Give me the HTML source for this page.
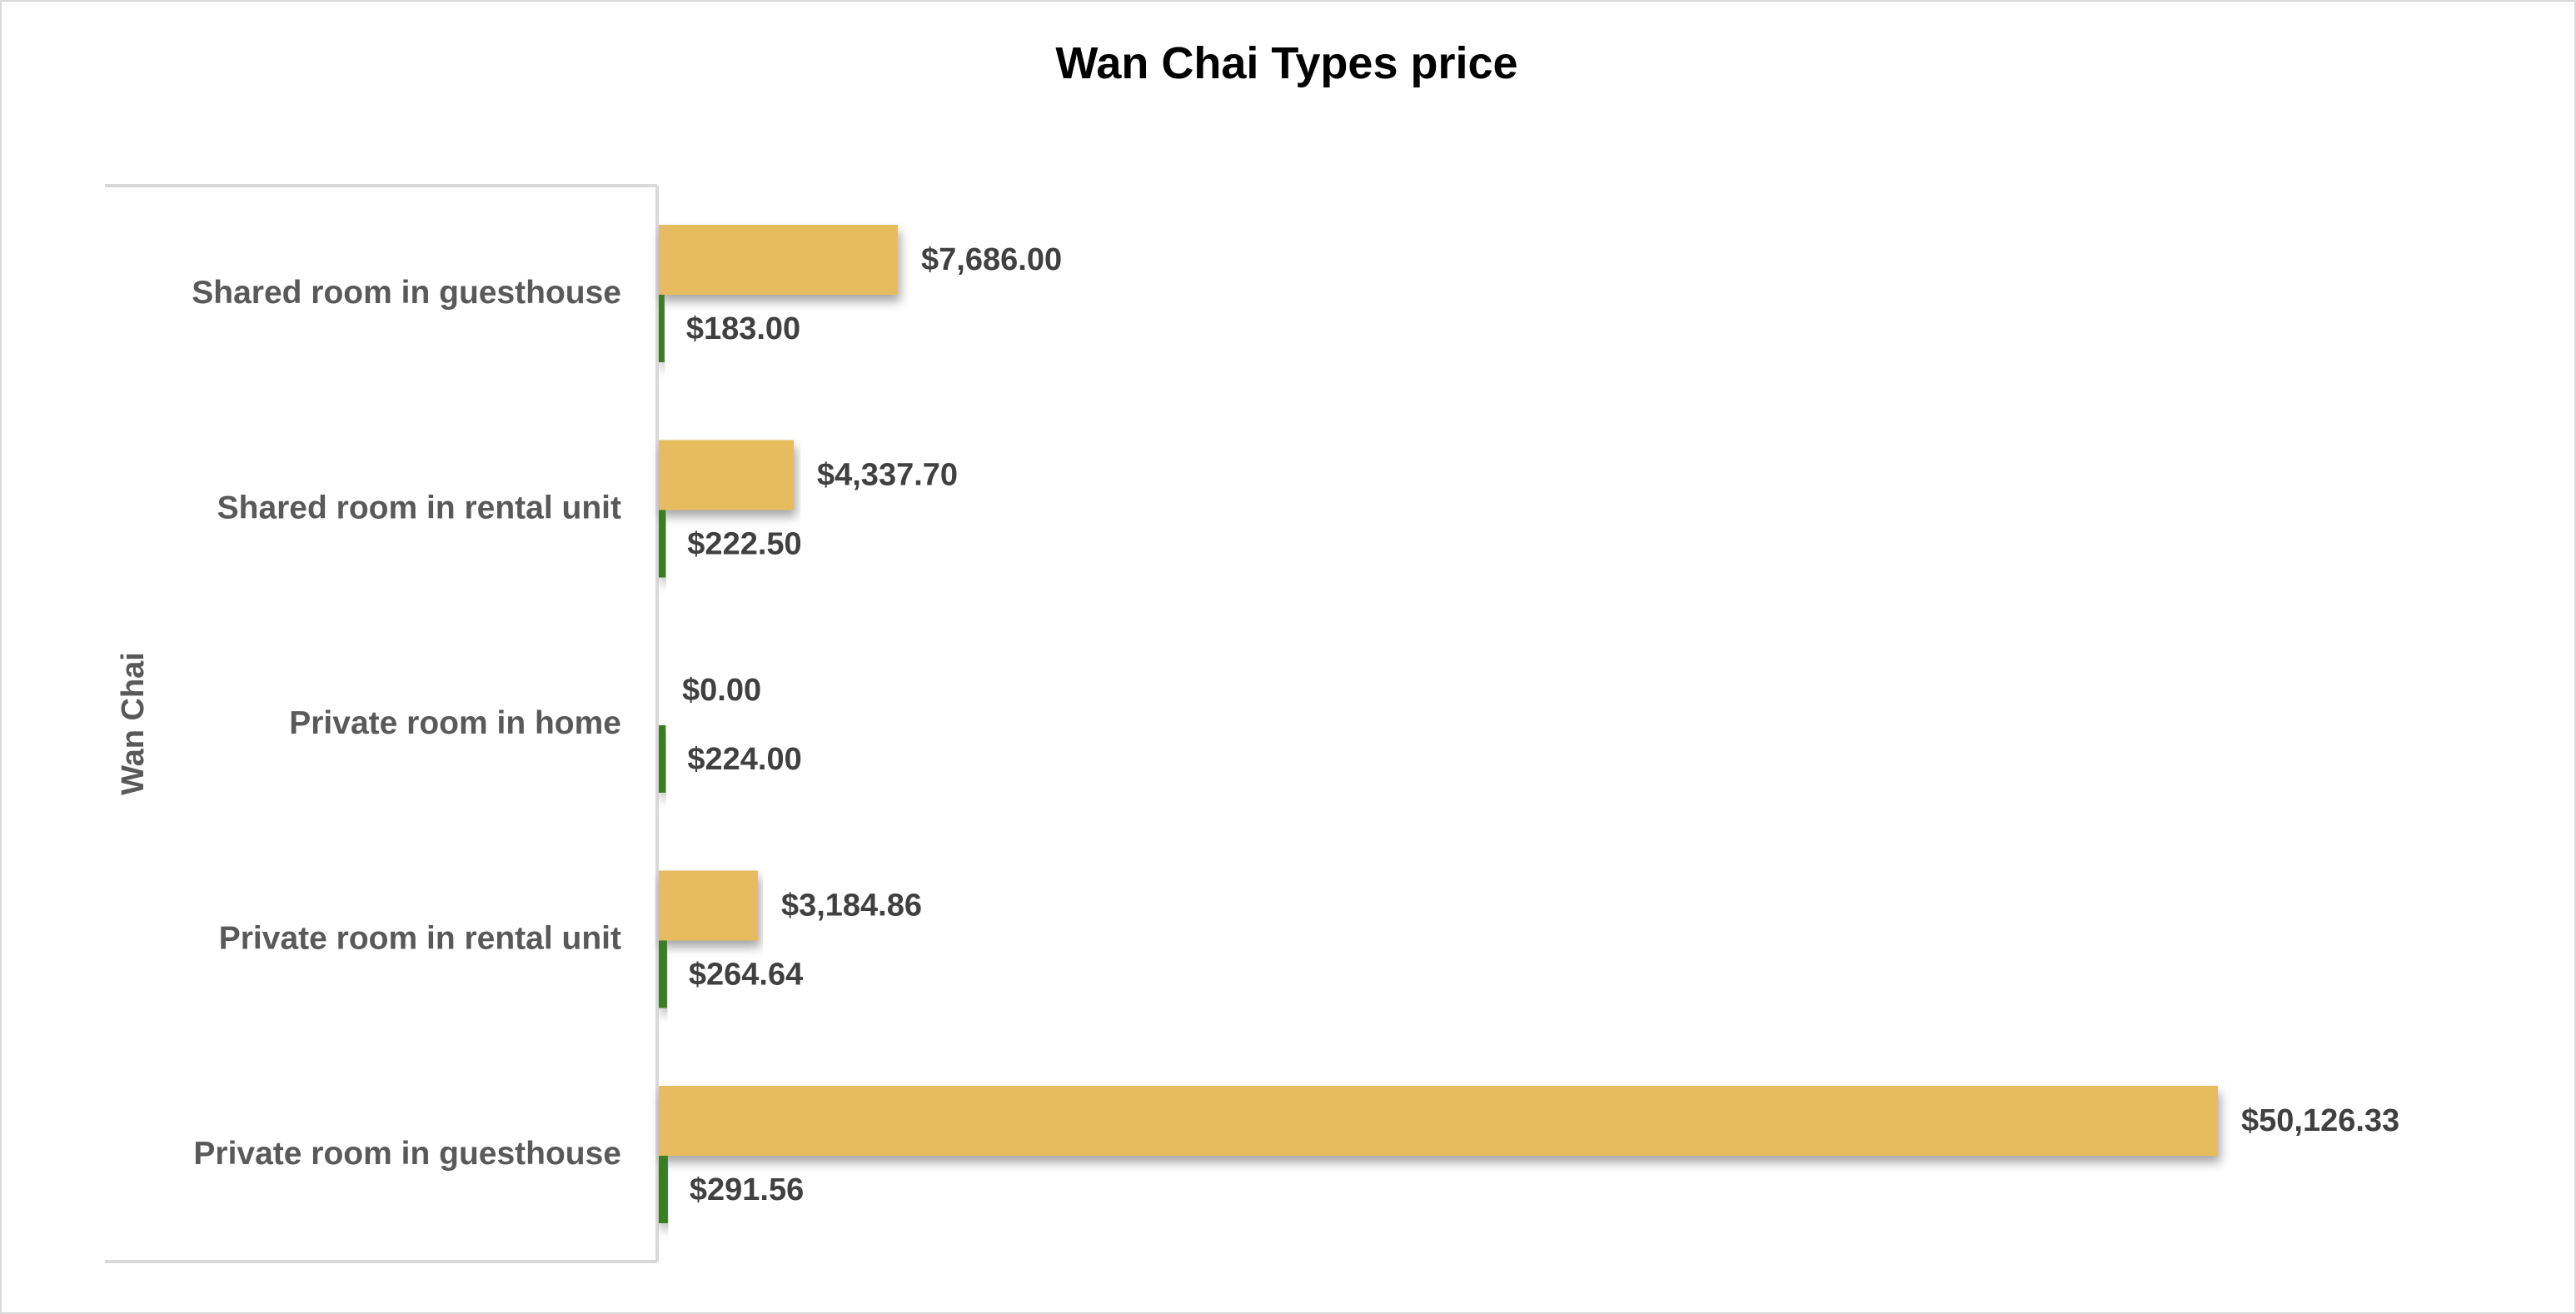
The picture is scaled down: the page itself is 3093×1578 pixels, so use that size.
<!DOCTYPE html>
<html><head><meta charset="utf-8"><style>
html,body{margin:0;padding:0;background:#fff;}
svg{display:block;}
text{font-family:"Liberation Sans",sans-serif;font-weight:bold;}
</style></head><body>
<svg id="chart" width="3093" height="1578" viewBox="0 0 3093 1578">
<defs>
<filter id="sh" x="-5%" y="-30%" width="110%" height="180%">
<feDropShadow dx="3" dy="8" stdDeviation="6" flood-color="#000" flood-opacity="0.35"/>
</filter>
</defs>
<rect x="1" y="1" width="3091" height="1576" fill="#fff" stroke="#d9d9d9" stroke-width="2"/>
<text x="1545" y="94" text-anchor="middle" font-size="54" fill="#000">Wan Chai Types price</text>
<line x1="126" y1="223" x2="789" y2="223" stroke="#d9d9d9" stroke-width="4"/>
<line x1="126" y1="1515" x2="789" y2="1515" stroke="#d9d9d9" stroke-width="4"/>
<line x1="789" y1="223" x2="789" y2="1515" stroke="#d9d9d9" stroke-width="4"/>
<text transform="translate(172,869) rotate(-90)" text-anchor="middle" font-size="38" fill="#595959">Wan Chai</text>
<g id="marks"></g>
</svg>
<script>
const categories = ["Shared room in guesthouse","Shared room in rental unit","Private room in home","Private room in rental unit","Private room in guesthouse"];
const series1 = [7686.00, 4337.70, 0.00, 3184.86, 50126.33];
const series2 = [183.00, 222.50, 224.00, 264.64, 291.56];
const xMax = 50126.33;

const NS = "http://www.w3.org/2000/svg";
const g = document.getElementById('marks');
const x0 = 791, xw = 1872;
function xs(v){ return x0 + v / xMax * xw; }
function yc(i){ return 351 + i * 258.5; }
function fmt(v){ return "$" + v.toLocaleString("en-US",{minimumFractionDigits:2,maximumFractionDigits:2}); }
function mk(tag, attrs){ const e=document.createElementNS(NS,tag); for(const k in attrs) e.setAttribute(k,attrs[k]); g.appendChild(e); return e; }

categories.forEach((c,i)=>{
  const cy = yc(i);
  const lab = mk('text',{x:746,y:cy+13,'text-anchor':'end','font-size':39,fill:'#595959'});
  lab.textContent = c;
  
  

  const w1 = xs(series1[i]) - x0;
  if (w1 > 0) {
    const b1 = mk('rect',{x:x0,y:cy-81,width:w1,height:84,fill:'#e6bc5e',filter:'url(#sh)'});
    
    
  }
  const t1 = mk('text',{x:xs(series1[i])+28,y:cy-27,'font-size':38,fill:'#404040'});
  t1.textContent = fmt(series1[i]);
  
  

  const w2 = Math.max(xs(series2[i]) - x0, 1);
  const b2 = mk('rect',{x:x0,y:cy+3,width:w2,height:81,fill:'#3b7d23',filter:'url(#sh)'});
  
  
  const t2 = mk('text',{x:xs(series2[i])+26,y:cy+56,'font-size':38,fill:'#404040'});
  t2.textContent = fmt(series2[i]);
  
  
});
</script>
</body></html>
